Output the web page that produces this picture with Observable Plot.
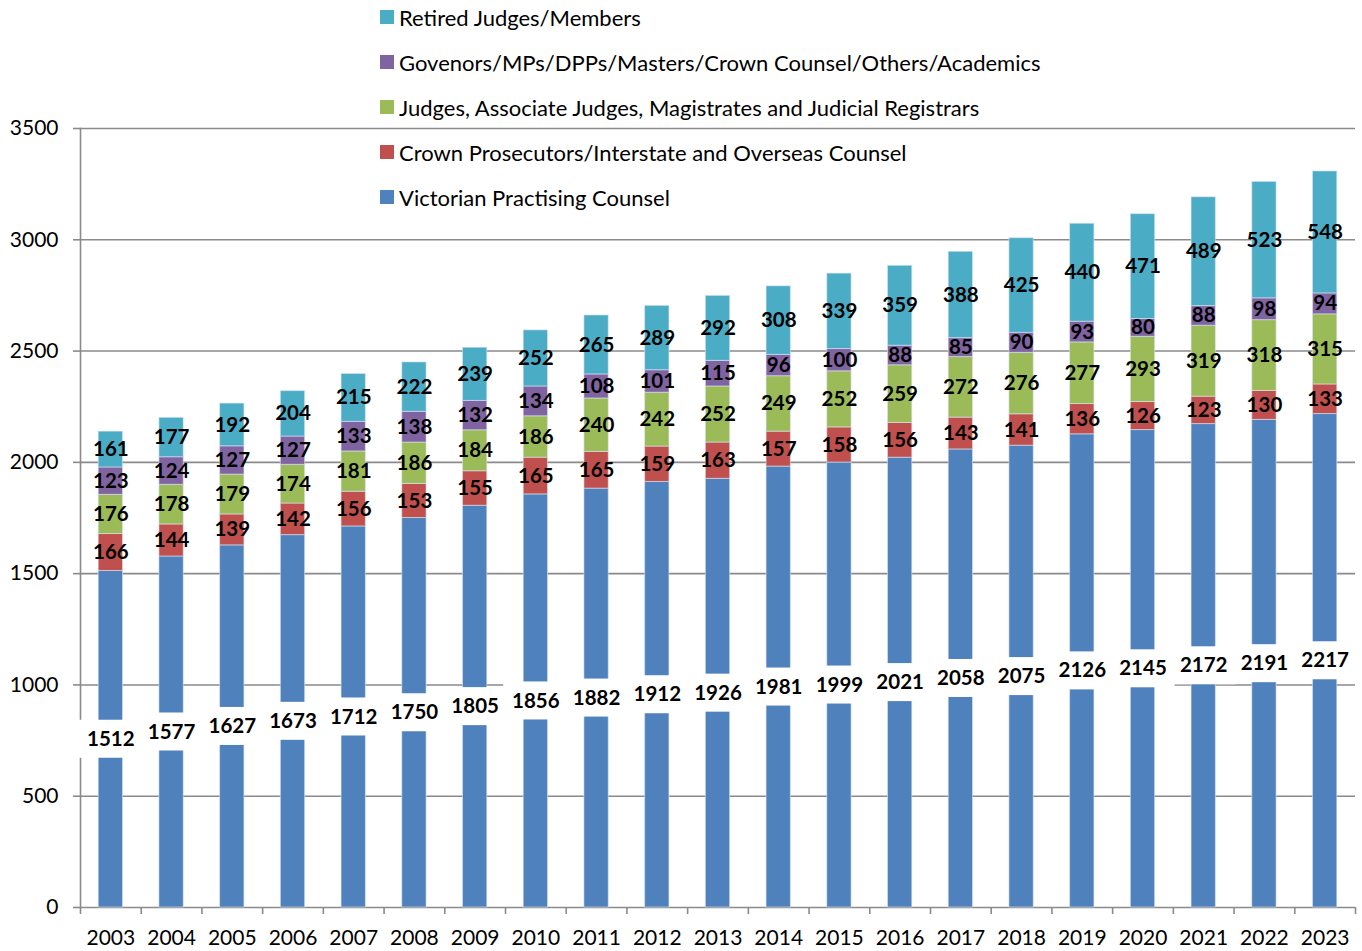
<!DOCTYPE html>
<html>
<head>
<meta charset="utf-8">
<script src="https://cdn.jsdelivr.net/npm/d3@7"></script>
<script src="https://cdn.jsdelivr.net/npm/@observablehq/plot@0.6"></script>
<style>
  html, body { margin: 0; padding: 0; background: #fff; }
  #wrap { position: relative; width: 1362px; height: 951px; font-family: Lato, "Open Sans", sans-serif; }
  #chart { position: absolute; left: 0; top: 0; }
  #legend { position: absolute; left: 380px; top: 0; pointer-events: none; }
  .item { position: absolute; left: 0; white-space: nowrap; font-size: 22px; color: #000; display: flex; align-items: center; height: 26px; }
  .sw { width: 14px; height: 14px; margin-right: 5px; display: inline-block; }
</style>
</head>
<body>
<div id="wrap">
  <div id="chart"></div>
  <div id="legend"></div>
</div>
<script>
const years = [2003,2004,2005,2006,2007,2008,2009,2010,2011,2012,2013,2014,2015,2016,2017,2018,2019,2020,2021,2022,2023];
const seriesNames = [
  "Victorian Practising Counsel",
  "Crown Prosecutors/Interstate and Overseas Counsel",
  "Judges, Associate Judges, Magistrates and Judicial Registrars",
  "Govenors/MPs/DPPs/Masters/Crown Counsel/Others/Academics",
  "Retired Judges/Members"
];
const seriesColors = ["#4F81BD","#C0504D","#9BBB59","#8064A2","#4BACC6"];
const victorian = [1512,1577,1627,1673,1712,1750,1805,1856,1882,1912,1926,1981,1999,2021,2058,2075,2126,2145,2172,2191,2217];
const crown     = [166,144,139,142,156,153,155,165,165,159,163,157,158,156,143,141,136,126,123,130,133];
const judges    = [176,178,179,174,181,186,184,186,240,242,252,249,252,259,272,276,277,293,319,318,315];
const govenors  = [123,124,127,127,133,138,132,134,108,101,115,96,100,88,85,90,93,80,88,98,94];
const retired   = [161,177,192,204,215,222,239,252,265,289,292,308,339,359,388,425,440,471,489,523,548];
const yTicks = [0,500,1000,1500,2000,2500,3000,3500];

const seriesValues = [victorian, crown, judges, govenors, retired];
const rows = [];
seriesValues.forEach((arr, si) => arr.forEach((v, i) => rows.push({year: String(years[i]), series: seriesNames[si], value: v})));
const blueRows = rows.filter(d => d.series === seriesNames[0]);

const W = 1362, H = 951, mL = 80, mR = 7, mT = 128, mB = 44;
const step = (W - mL - mR) / years.length;
const grid = "#8a8a8a";
const boxHalf = 19 * 3500 / (H - mT - mB); // white label box half-height in data units

const chart = Plot.plot({
  width: W, height: H,
  marginLeft: mL, marginRight: mR, marginTop: mT, marginBottom: mB,
  style: {fontFamily: "Lato, 'Open Sans', sans-serif", fontSize: "20px", color: "#000", background: "transparent"},
  x: {type: "band", domain: years.map(String), paddingInner: 0.6, paddingOuter: 0.3, round: false, label: null},
  y: {domain: [0, 3500], label: null},
  color: {domain: seriesNames, range: seriesColors},
  marks: [
    Plot.ruleY(yTicks, {stroke: grid, strokeWidth: 1.6}),
    Plot.frame({anchor: "left", stroke: grid, strokeWidth: 1.6}),
    Plot.axisY({ticks: yTicks, tickSize: 7, tickPadding: 15, stroke: grid, strokeWidth: 1.6, fill: "#000", fontSize: 21, tickFormat: d => String(d)}),
    Plot.axisX({tickSize: 0, tickPadding: 23, fill: "#000", fontSize: 21}),
    Plot.axisX({tickSize: 7, tickFormat: () => "", stroke: grid, strokeWidth: 1.6, dx: -step / 2}),
    Plot.axisX({ticks: [String(years[years.length - 1])], tickSize: 7, tickFormat: () => "", stroke: grid, strokeWidth: 1.6, dx: step / 2}),
    Plot.barY(rows, Plot.stackY({x: "year", y: "value", fill: "series", order: seriesNames, stroke: "#dbe5f1", strokeOpacity: 0.6, strokeWidth: 1})),
    Plot.barY(blueRows, {x: "year", y1: d => d.value / 2 - boxHalf, y2: d => d.value / 2 + boxHalf, fill: "white", insetLeft: -20, insetRight: -20}),
    Plot.text(rows, Plot.stackY({x: "year", y: "value", z: "series", order: seriesNames, text: d => String(d.value), fill: "#000", fontWeight: "bold", fontSize: 20.5}))
  ]
});
document.getElementById("chart").appendChild(chart);

// legend (reverse order, vertically stacked)
const legend = document.getElementById("legend");
const legendOrder = seriesNames.map((n, i) => ({name: n, color: seriesColors[i]})).reverse();
legendOrder.forEach((s, i) => {
  const div = document.createElement("div");
  div.className = "item";
  div.style.top = (4 + i * 45) + "px";
  const sw = document.createElement("span");
  sw.className = "sw";
  sw.style.background = s.color;
  div.appendChild(sw);
  div.appendChild(document.createTextNode(s.name));
  legend.appendChild(div);
});
</script>
</body>
</html>
